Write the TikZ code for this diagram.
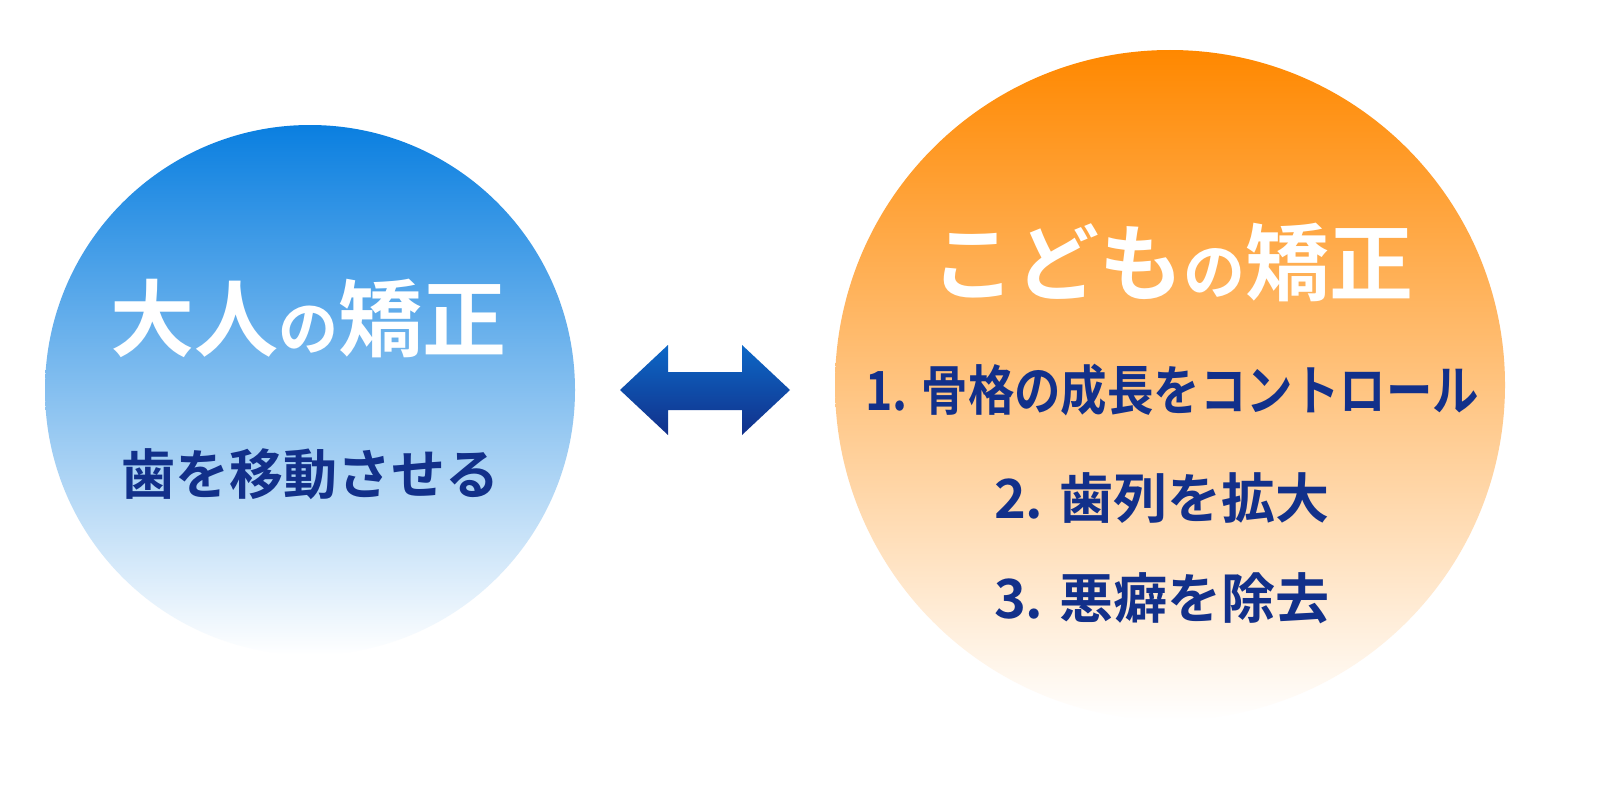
\documentclass[tikz,border=0pt]{standalone}
\usepackage{fontspec}
\newfontfamily\jp{Noto Sans CJK JP Bold}
\definecolor{navy}{HTML}{12308A}
\definecolor{cblue}{HTML}{0A7FE0}
\definecolor{corange}{HTML}{FF8800}
\begin{document}
\begin{tikzpicture}[x=1pt,y=-1pt,
  title/.style={font=\jp\fontsize{84}{90}\selectfont, text=white},
  item/.style={font=\jp\fontsize{54}{60}\selectfont, text=navy}]
\useasboundingbox (0,0) rectangle (1600,800);
\fill[white] (0,0) rectangle (1600,800);
\shade[top color=cblue, bottom color=white] (310,390) circle (265);
\shade[top color=corange, bottom color=white] (1170,385) circle (335);
\shade[top color=cblue!70!navy, bottom color=navy]
  (620,390) -- (668,345) -- (668,372) -- (742,372) -- (742,345) -- (790,390)
  -- (742,435) -- (742,410) -- (668,410) -- (668,435) -- cycle;
\node[title] (a) at (308,318) {大人{\fontsize{60}{66}\selectfont の}矯正};
\node[item] (a1) at (310,474) {歯を移動させる};
\node[title] (b) at (1172,262) {こども{\fontsize{62}{66}\selectfont の}矯正};
\node[item, xscale=0.86] (b1) at (1172,390) {1. 骨格の成長をコントロール};
\node[item] (b2) at (1162,498) {2. 歯列を拡大};
\node[item] (b3) at (1162,598) {3. 悪癖を除去};
\end{tikzpicture}
\end{document}
